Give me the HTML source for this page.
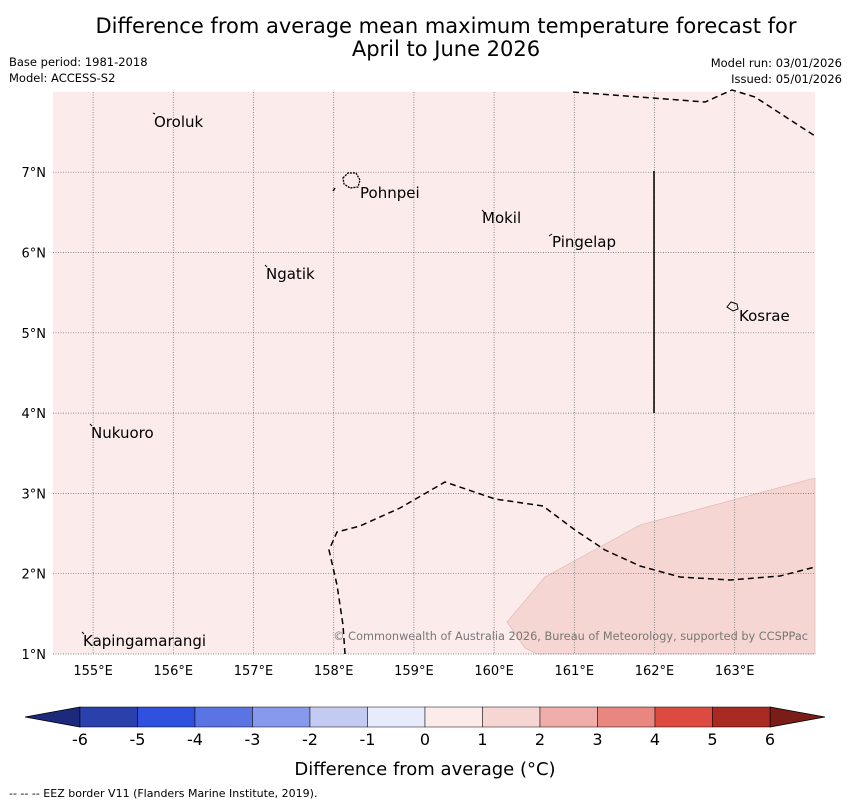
<!DOCTYPE html>
<html><head><meta charset="utf-8"><style>
body{margin:0;background:#fff;font-family:"Liberation Sans","DejaVu Sans",sans-serif;}
svg{display:block}
</style></head><body>
<svg id="chart" width="850" height="804" viewBox="0 0 850 804" xmlns="http://www.w3.org/2000/svg" font-family="DejaVu Sans, Liberation Sans, sans-serif">
<text x="446" y="33" font-size="21" text-anchor="middle">Difference from average mean maximum temperature forecast for</text>
<text x="446" y="56" font-size="21" text-anchor="middle">April to June 2026</text>
<text x="9" y="66" font-size="11.5">Base period: 1981-2018</text>
<text x="9" y="82" font-size="11.5">Model: ACCESS-S2</text>
<text x="842" y="67" font-size="11.5" text-anchor="end">Model run: 03/01/2026</text>
<text x="842" y="83" font-size="11.5" text-anchor="end">Issued: 05/01/2026</text>
<rect x="53" y="92" width="762" height="562" fill="#fbeceb"/>
<polygon points="507,622 545,577 640,525 815,478 815,654 537,654 525,648" fill="#f5d6d3" stroke="#d9b3b0" stroke-width="0.6"/>
<g id="grid"></g>
<g id="axes"></g>
<g fill="none" stroke="#000" stroke-width="1.5" stroke-dasharray="6,4">
<path d="M573,92 L705,102 L732,90 L755,97 L815,136"/>
<path d="M345,654 L343,625 L337,585 L329,550 L337,532 L360,526 L400,508 L445,482 L495,499 L543,506 L575,530 L605,550 L640,566 L680,577 L730,580 L780,576 L815,567"/>
<path d="M333,191 L335,188"/>
</g>
<line x1="654" y1="171" x2="654" y2="413" stroke="#000" stroke-width="1.5"/>
<path d="M343,178 L348,173 L356,173 L360,180 L358,187 L350,188 L344,184 Z" fill="none" stroke="#000" stroke-width="1.3" stroke-dasharray="2,1"/>
<path d="M727,307 L731,302 L737,304 L738,309 L733,311 Z" fill="none" stroke="#000" stroke-width="1"/>
<g stroke="#000" stroke-width="1">
<line x1="153" y1="113" x2="155" y2="114"/>
<line x1="482" y1="210" x2="484" y2="212"/>
<line x1="549" y1="236" x2="552" y2="234"/>
<line x1="265" y1="265" x2="267" y2="267"/>
<line x1="90" y1="424" x2="92" y2="426"/>
<line x1="82" y1="632" x2="84" y2="634"/>
</g>
<g font-size="15">
<text x="154" y="127">Oroluk</text>
<text x="360" y="198">Pohnpei</text>
<text x="482" y="223">Mokil</text>
<text x="552" y="247">Pingelap</text>
<text x="266" y="279">Ngatik</text>
<text x="739" y="321">Kosrae</text>
<text x="91" y="438">Nukuoro</text>
<text x="83" y="646">Kapingamarangi</text>
</g>
<text x="808" y="640" font-size="11.3" fill="#777" text-anchor="end">© Commonwealth of Australia 2026, Bureau of Meteorology, supported by CCSPPac</text>
<g id="cbar"></g>
<text x="425" y="775" font-size="18" text-anchor="middle">Difference from average (°C)</text>
<text x="9" y="797" font-size="11">--  --  -- EEZ border V11 (Flanders Marine Institute, 2019).</text>
</svg>
<script>
const lonTicks=[155,156,157,158,159,160,161,162,163];
const latTicks=[1,2,3,4,5,6,7];
const cbLevels=[-6,-5,-4,-3,-2,-1,0,1,2,3,4,5,6];
const cbColors=["#2a40ac","#3050e0","#5a74e3","#8799ec","#c3cbf3","#e8ebfb","#fbeceb","#f5d6d3","#efaea9","#e8867f","#dc4a40","#a82a22"];
const cbUnder="#1b2a7a", cbOver="#7a1c18";
const NS="http://www.w3.org/2000/svg";
const xLon=l=>53+(l-154.5)*80.2;
const yLat=l=>654-(l-1)*80.3;
const xCb=v=>80+(v+6)*57.5;
function mk(t,a,p){const e=document.createElementNS(NS,t);for(const k in a)e.setAttribute(k,a[k]);p.appendChild(e);return e;}
const grid=document.getElementById('grid'),axes=document.getElementById('axes'),cb=document.getElementById('cbar');
lonTicks.forEach(l=>{
 const ln=mk('line',{x1:xLon(l),x2:xLon(l),y1:92,y2:654,stroke:'#666','stroke-width':0.7,'stroke-dasharray':'1,1.5'},grid);
 
 
 const t=mk('text',{x:xLon(l),y:675,'font-size':13,'text-anchor':'middle'},axes);t.textContent=l+'°E';
 
 
});
latTicks.forEach(l=>{
 const ln=mk('line',{x1:53,x2:815,y1:yLat(l),y2:yLat(l),stroke:'#666','stroke-width':0.7,'stroke-dasharray':'1,1.5'},grid);
 
 
 const t=mk('text',{x:46,y:yLat(l)+5,'font-size':13,'text-anchor':'end'},axes);t.textContent=l+'°N';
 
 
});
const y0=707,y1=727;
const u=mk('polygon',{points:`${xCb(-6)},${y0} 25,717 ${xCb(-6)},${y1}`,fill:cbUnder,stroke:'#000','stroke-width':0.8},cb);


const o=mk('polygon',{points:`${xCb(6)},${y0} 825,717 ${xCb(6)},${y1}`,fill:cbOver,stroke:'#000','stroke-width':0.8},cb);


cbColors.forEach((c,i)=>{
 const r=mk('rect',{x:xCb(cbLevels[i]),y:y0,width:xCb(cbLevels[i+1])-xCb(cbLevels[i]),height:y1-y0,fill:c,stroke:'#000','stroke-width':0.5},cb);
 
 
});
cbLevels.forEach(v=>{
 const t=mk('text',{x:xCb(v),y:745,'font-size':16,'text-anchor':'middle'},cb);t.textContent=v;
 
 
});
</script>
</body></html>
